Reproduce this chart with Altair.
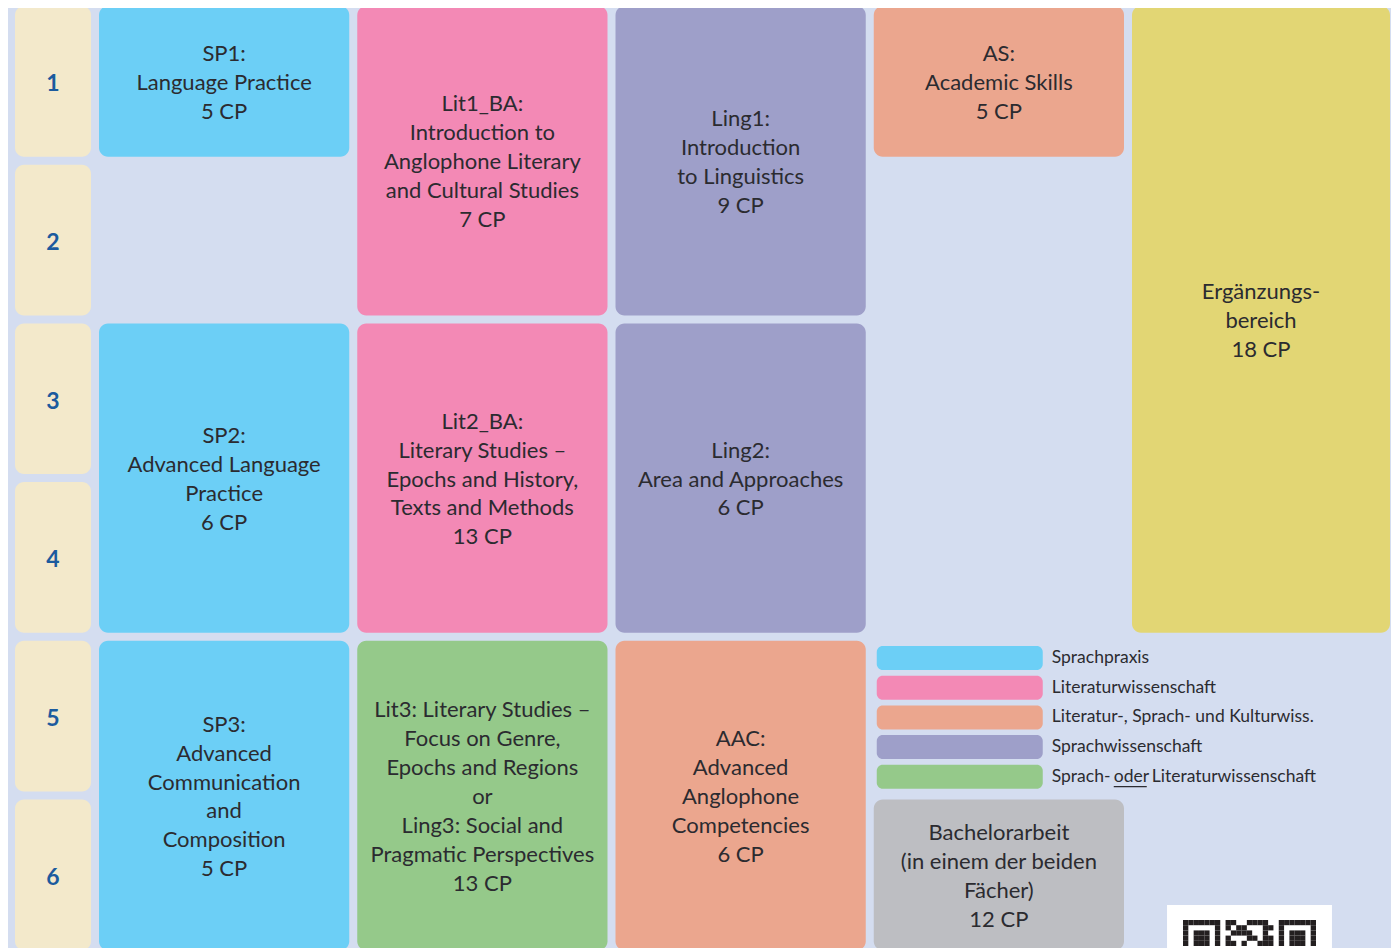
import altair as alt
import pandas as pd

# ---------------- data ----------------
semesters = [1, 2, 3, 4, 5, 6]

module_names = ["SP1", "SP2", "SP3", "Lit1_BA", "Lit2_BA", "Lit3",
                "Ling1", "Ling2", "AAC", "AS", "Ergänzungsbereich", "Bachelorarbeit"]
module_column = [1, 1, 1, 2, 2, 2, 3, 3, 3, 4, 5, 4]
module_first_sem = [1, 3, 5, 1, 3, 5, 1, 3, 5, 1, 1, 6]
module_last_sem = [1, 4, 6, 2, 4, 6, 2, 4, 6, 1, 4, 6]
module_area = ["Sprachpraxis", "Sprachpraxis", "Sprachpraxis",
               "Literaturwissenschaft", "Literaturwissenschaft",
               "Sprach- oder Literaturwissenschaft",
               "Sprachwissenschaft", "Sprachwissenschaft",
               "Literatur-, Sprach- und Kulturwiss.",
               "Literatur-, Sprach- und Kulturwiss.",
               "Ergänzungsbereich", "Bachelorarbeit"]
module_labels = [
    "SP1:\nLanguage Practice\n5 CP",
    "SP2:\nAdvanced Language\nPractice\n6 CP",
    "SP3:\nAdvanced\nCommunication\nand\nComposition\n5 CP",
    "Lit1_BA:\nIntroduction to\nAnglophone Literary\nand Cultural Studies\n7 CP",
    "Lit2_BA:\nLiterary Studies –\nEpochs and History,\nTexts and Methods\n13 CP",
    "Lit3: Literary Studies –\nFocus on Genre,\nEpochs and Regions\nor\nLing3: Social and\nPragmatic Perspectives\n13 CP",
    "Ling1:\nIntroduction\nto Linguistics\n9 CP",
    "Ling2:\nArea and Approaches\n6 CP",
    "AAC:\nAdvanced\nAnglophone\nCompetencies\n6 CP",
    "AS:\nAcademic Skills\n5 CP",
    "Ergänzungs-\nbereich\n18 CP",
    "Bachelorarbeit\n(in einem der beiden\nFächer)\n12 CP",
]

legend_labels = ["Sprachpraxis", "Literaturwissenschaft",
                 "Literatur-, Sprach- und Kulturwiss.",
                 "Sprachwissenschaft", "Sprach- oder Literaturwissenschaft"]
legend_text_parts = ["Sprachpraxis", "Literaturwissenschaft",
                     "Literatur-, Sprach- und Kulturwiss.",
                     "Sprachwissenschaft", "Sprach-"]

# QR code (top rows visible only)
qr_rows = [
    "1111111011001111001111111",
    "1000001010110001101000001",
    "1011101001111001001011101",
    "1011101010001101101011101",
    "1011101011010011101011101",
]

# ---------------- styles ----------------
area_domain = ["Sprachpraxis", "Literaturwissenschaft",
               "Literatur-, Sprach- und Kulturwiss.", "Sprachwissenschaft",
               "Sprach- oder Literaturwissenschaft", "Ergänzungsbereich",
               "Bachelorarbeit"]
area_colors = ["#6ccff6", "#f389b5", "#eba68e", "#9e9fc9", "#95c98a",
               "#e2d674", "#bdbec2"]
BG = "#d4ddf0"
SEM_FILL = "#f3e9cb"
TEXT = "#2b2b30"
SEM_TEXT = "#1b5b9e"
FONT = "Lato"
LH = 28.9                 # line height in px
ROW_PX = 158.7            # px per semester row
HALF_LH = LH / 2 / ROW_PX  # half a line in semester units

xs = alt.Scale(domain=[0, 1, 5, 6], range=[7, 91, 1124, 1390])
ys = alt.Scale(domain=[0, 6], range=[-2, 950.2])
cs = alt.Scale(domain=area_domain, range=area_colors)

# ---------------- tables ----------------
sem_df = pd.DataFrame({"sem": semesters})
mod_df = pd.DataFrame({
    "name": module_names, "col": module_column,
    "s0": module_first_sem, "s1": module_last_sem,
    "area": module_area, "label": module_labels,
})
leg_df = pd.DataFrame({"area": legend_labels, "text": legend_text_parts,
                       "idx": list(range(len(legend_labels)))})
qr_cells = [{"r": r, "c": c} for r, row in enumerate(qr_rows)
            for c, ch in enumerate(row) if ch == "1"]
qr_df = pd.DataFrame(qr_cells)

# ---------------- layers ----------------
sem_base = alt.Chart(sem_df).transform_calculate(
    x0="0", x1="1", xc="0.5", y0="datum.sem - 1", y1="datum.sem",
    yc="datum.sem - 0.5")

sem_rect = sem_base.mark_rect(cornerRadius=9, x2Offset=-8, y2Offset=-8,
                              fill=SEM_FILL).encode(
    x=alt.X("x0:Q", scale=xs, axis=None), x2="x1:Q",
    y=alt.Y("y0:Q", scale=ys, axis=None), y2="y1:Q")

sem_text = sem_base.mark_text(font=FONT, fontWeight="bold",
                              fontSize=23, color=SEM_TEXT, dx=-4, dy=-1,
                              baseline="middle", align="center").encode(
    x=alt.X("xc:Q", scale=xs, axis=None),
    y=alt.Y("yc:Q", scale=ys, axis=None),
    text="sem:N")

mod_base = alt.Chart(mod_df).transform_calculate(
    x1="datum.col + 1", xc="datum.col + 0.5", y0="datum.s0 - 1",
    nl="length(split(datum.label, '\\n'))",
).transform_calculate(
    yc=f"(datum.s0 - 1 + datum.s1) / 2 - (datum.nl - 1) * {HALF_LH}")

mod_rect = mod_base.mark_rect(cornerRadius=9, x2Offset=-8, y2Offset=-8).encode(
    x=alt.X("col:Q", scale=xs, axis=None), x2="x1:Q",
    y=alt.Y("y0:Q", scale=ys, axis=None), y2="s1:Q",
    fill=alt.Fill("area:N", scale=cs, legend=None))

mod_text = mod_base.mark_text(font=FONT, fontSize=22, lineHeight=LH,
                              lineBreak="\n", color=TEXT, dx=-4, dy=-2.5,
                              baseline="middle", align="center").encode(
    x=alt.X("xc:Q", scale=xs, axis=None),
    y=alt.Y("yc:Q", scale=ys, axis=None),
    text="label:N")

ly = alt.Scale(domain=[0, 5], range=[638, 786.5])
leg_base = alt.Chart(leg_df).transform_calculate(
    lx="4", i1="datum.idx + 1", ic="datum.idx + 0.5")

leg_rect = leg_base.mark_rect(cornerRadius=6, xOffset=3, x2Offset=169,
                              y2Offset=-5.7).encode(
    x=alt.X("lx:Q", scale=xs, axis=None), x2="lx:Q",
    y=alt.Y("idx:Q", scale=ly, axis=None), y2="i1:Q",
    fill=alt.Fill("area:N", scale=cs, legend=None))

leg_text = leg_base.mark_text(font=FONT, fontSize=17.5, color=TEXT, dx=178,
                              dy=-2.85, align="left",
                              baseline="middle").encode(
    x=alt.X("lx:Q", scale=xs, axis=None),
    y=alt.Y("ic:Q", scale=ly, axis=None),
    text="text:N")

# remaining pieces of the last legend line ("oder" underlined)
last_df = pd.DataFrame({"idx": [4], "w1": ["oder"], "w2": ["Literaturwissenschaft"]})
last_base = alt.Chart(last_df).transform_calculate(lx="4", ic="datum.idx + 0.5")
oder_text = last_base.mark_text(font=FONT, fontSize=17.5, color=TEXT, dx=240,
                                dy=-2.85, align="left",
                                baseline="middle").encode(
    x=alt.X("lx:Q", scale=xs, axis=None),
    y=alt.Y("ic:Q", scale=ly, axis=None), text="w1:N")
lit_text = last_base.mark_text(font=FONT, fontSize=17.5, color=TEXT, dx=278,
                               dy=-2.85, align="left",
                               baseline="middle").encode(
    x=alt.X("lx:Q", scale=xs, axis=None),
    y=alt.Y("ic:Q", scale=ly, axis=None), text="w2:N")
oder_rule = last_base.mark_rule(color=TEXT, strokeWidth=1.2, xOffset=240,
                                x2Offset=273, yOffset=7).encode(
    x=alt.X("lx:Q", scale=xs, axis=None), x2="lx:Q",
    y=alt.Y("ic:Q", scale=ly, axis=None))

qx = alt.Scale(domain=[0, 25], range=[1175, 1308])
qy = alt.Scale(domain=[0, 5], range=[912, 938])
qr_bg_df = pd.DataFrame({"a": [-3], "b": [28], "c": [-2.9], "d": [40]})
qr_bg = alt.Chart(qr_bg_df).mark_rect(fill="white").encode(
    x=alt.X("a:Q", scale=qx, axis=None), x2="b:Q",
    y=alt.Y("c:Q", scale=qy, axis=None), y2="d:Q")
qr_cells_chart = alt.Chart(qr_df).transform_calculate(
    c1="datum.c + 1", r1="datum.r + 1").mark_rect(fill="#231f20").encode(
    x=alt.X("c:Q", scale=qx, axis=None), x2="c1:Q",
    y=alt.Y("r:Q", scale=qy, axis=None), y2="r1:Q")

chart = alt.layer(
    sem_rect, sem_text, mod_rect, mod_text, leg_rect, leg_text,
    oder_text, lit_text, oder_rule, qr_bg, qr_cells_chart
).resolve_scale(x="independent", y="independent", fill="independent").properties(
    width=1383, height=940, padding=0, autosize="none", background=BG
).configure_view(stroke=None)

chart.save("out.html", embed_options={"renderer": "svg", "actions": False})
